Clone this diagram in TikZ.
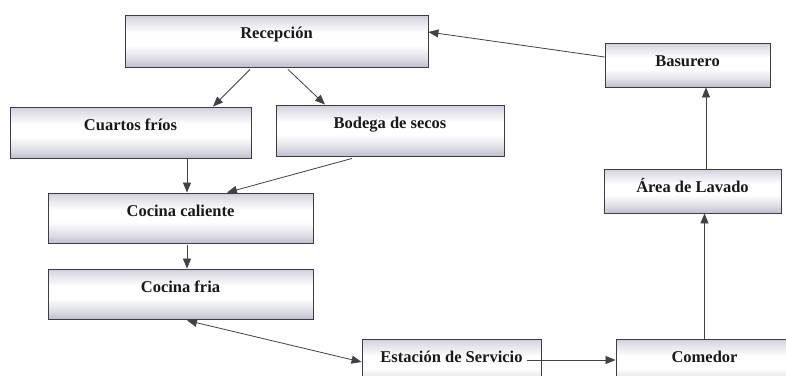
\documentclass[tikz,border=0pt]{standalone}
\usepackage{fontspec}
\setmainfont{Liberation Serif}
\usetikzlibrary{arrows.meta}
\definecolor{boxdark}{RGB}{92,92,116}
\definecolor{boxmid}{RGB}{148,148,170}
\definecolor{boxlight}{RGB}{218,218,228}
\definecolor{boxline}{RGB}{60,60,70}
\definecolor{arrowcol}{RGB}{65,65,72}
\pgfdeclareverticalshading{boxshade}{100bp}{color(0bp)=(boxdark); color(14bp)=(boxmid); color(32bp)=(boxlight); color(46bp)=(white); color(58bp)=(white); color(72bp)=(boxlight); color(86bp)=(boxmid); color(100bp)=(boxdark)}
\tikzset{
  box/.style={draw=boxline, line width=0.9pt, rectangle, inner sep=0pt,
    shading=boxshade,
    font=\fontsize{16.5}{18}\selectfont\bfseries, text=black!90,
    text height=23pt},
  flow/.style={draw=arrowcol, line width=0.8pt, -{Triangle[length=10pt,width=8pt]}},
  flowboth/.style={draw=arrowcol, line width=0.8pt, {Triangle[length=10pt,width=8pt]}-{Triangle[length=10pt,width=8pt]}}
}
\begin{document}
\begin{tikzpicture}[x=1pt,y=-1pt]
\useasboundingbox (0,0) rectangle (786,375);
\clip (0,0) rectangle (786,375);
\fill[white] (0,0) rectangle (786,375);
\node[box, minimum width=303pt, text depth=29pt] (rec) at (276.5,41) {Recepción};
\node[box, minimum width=241pt, text depth=28pt] (cua) at (130.5,132.5) {Cuartos fríos};
\node[box, minimum width=228pt, text depth=28pt] (bod) at (390,130.5) {Bodega de secos};
\node[box, minimum width=265pt, text depth=27pt] (cal) at (180.5,218) {Cocina caliente};
\node[box, minimum width=265pt, text depth=27pt] (fri) at (180.5,294) {Cocina fria};
\node[box, minimum width=179pt, text depth=27pt] (est) at (451.5,364) {Estación de Servicio};
\node[box, minimum width=177pt, text depth=27pt] (com) at (704.5,364) {Comedor};
\node[box, minimum width=165pt, text depth=21pt] (bas) at (687.5,65) {Basurero};
\node[box, minimum width=177pt, text depth=21pt] (are) at (692.5,191) {Área de Lavado};
\coordinate (areout) at ([xshift=13.5pt]are.north);

\draw[flow] ([xshift=-26.5pt,yshift=-2pt]rec.south) -- ([xshift=82.5pt]cua.north);
\draw[flow] ([xshift=11.5pt,yshift=-2pt]rec.south) -- ([xshift=-65pt]bod.north);
\draw[flow] ([xshift=56.5pt]cua.south) -- ([xshift=6.5pt]cal.north);
\draw[flow] ([xshift=-38pt,yshift=-2pt]bod.south) -- ([xshift=46.5pt]cal.north);
\draw[flow] ([xshift=6.5pt,yshift=-2pt]cal.south) -- ([xshift=6.5pt]fri.north);
\draw[flowboth] ([xshift=6.5pt,yshift=-1pt]fri.south) -- ([yshift=2pt]est.west);
\draw[flow] ([xshift=-14pt,yshift=4pt]est.east) -- ([yshift=4pt]com.west);
\draw[flow] (com.north) -- (are.south -| com.north);
\draw[flow] (areout) -- (bas.south -| areout);
\draw[flow] ([yshift=8pt]bas.west) -- ([yshift=9pt]rec.east);
\end{tikzpicture}
\end{document}
